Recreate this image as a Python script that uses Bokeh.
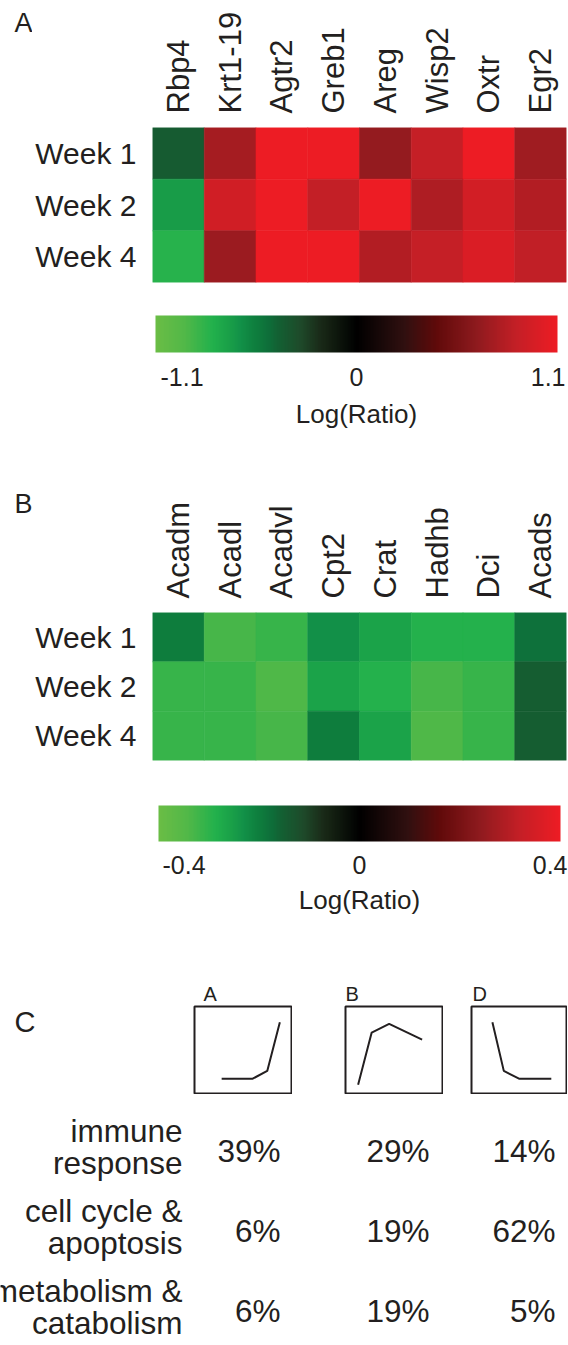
import math
import numpy as np
from bokeh.plotting import figure
from bokeh.models import ColumnDataSource, LinearColorMapper, Range1d, FactorRange, Spacer
from bokeh.layouts import column, row
from bokeh.core.properties import value
from bokeh.embed import file_html
from bokeh.resources import INLINE

FONT = "Liberation Sans"
INK = "#231f20"
PAGE_W = 568

# ---------------- data ----------------
weeks = ["Week 1", "Week 2", "Week 4"]

genes_A = ["Rbp4", "Krt1-19", "Agtr2", "Greb1", "Areg", "Wisp2", "Oxtr", "Egr2"]
logratio_A_week1 = [-0.40, 0.75, 1.10, 1.10, 0.68, 0.88, 1.10, 0.73]
logratio_A_week2 = [-0.68, 0.94, 1.10, 0.87, 1.10, 0.79, 0.95, 0.80]
logratio_A_week4 = [-0.80, 0.71, 1.10, 1.10, 0.80, 0.88, 0.99, 0.86]
scale_A = [-1.1, 1.1]
scale_A_labels = ["-1.1", "0", "1.1"]

genes_B = ["Acadm", "Acadl", "Acadvl", "Cpt2", "Crat", "Hadhb", "Dci", "Acads"]
logratio_B_week1 = [-0.20, -0.33, -0.31, -0.23, -0.26, -0.29, -0.29, -0.18]
logratio_B_week2 = [-0.31, -0.31, -0.34, -0.26, -0.29, -0.33, -0.31, -0.15]
logratio_B_week4 = [-0.31, -0.31, -0.33, -0.20, -0.26, -0.34, -0.31, -0.15]
scale_B = [-0.4, 0.4]
scale_B_labels = ["-0.4", "0", "0.4"]

clusters = ["A", "B", "D"]
profile_A_x = [0.28, 0.60, 0.75, 0.88]
profile_A_y = [0.17, 0.17, 0.26, 0.82]
profile_B_x = [0.13, 0.27, 0.45, 0.79]
profile_B_y = [0.10, 0.70, 0.80, 0.62]
profile_D_x = [0.22, 0.34, 0.50, 0.84]
profile_D_y = [0.82, 0.26, 0.17, 0.17]

categories = ["immune response", "cell cycle & apoptosis", "metabolism & catabolism"]
category_labels = ["immune\nresponse", "cell cycle &\napoptosis", "metabolism &\ncatabolism"]
share_A = [39, 6, 6]
share_B = [29, 19, 19]
share_D = [14, 62, 5]

# ---------------- colour scale ----------------
cmap_stops = [0.00, 0.07, 0.14, 0.18, 0.21, 0.25, 0.28, 0.31, 0.36, 0.41, 0.50,
              0.62, 0.70, 0.80, 0.90, 1.00]
cmap_colors = ["#6abd45", "#52b848", "#22b14c", "#1aa048", "#129148", "#0e7d3d",
               "#0e6e3a", "#145e32", "#1e4a2a", "#1a2a18", "#000000", "#301010",
               "#600a0a", "#8e1a1e", "#c41f26", "#ed1c24"]


def build_palette(stops, colors, n=256):
    rgb = np.array([[int(c[i:i + 2], 16) for i in (1, 3, 5)] for c in colors], dtype=float)
    t = np.linspace(0, 1, n)
    ch = [np.interp(t, stops, rgb[:, k]) for k in range(3)]
    return ["#%02x%02x%02x" % (int(round(ch[0][i])), int(round(ch[1][i])), int(round(ch[2][i])))
            for i in range(n)]


PALETTE = build_palette(cmap_stops, cmap_colors)


def base_fig(**kw):
    p = figure(output_backend="svg", toolbar_location=None, tools="", frame_align=False, **kw)
    p.outline_line_color = None
    p.background_fill_color = "white"
    p.border_fill_color = "white"
    return p


def blank_fig(w, h, **kw):
    kw.setdefault("x_range", Range1d(0, 1))
    kw.setdefault("y_range", Range1d(0, 1))
    p = base_fig(frame_width=w, frame_height=h, min_border=0,
                 x_axis_type=None, y_axis_type=None, **kw)
    p.grid.visible = False
    return p


BASE_SHIFT = 0.36  # rendered baseline sits this many ems below the anchor


def txt(p, x, y, text, size, align="left", dx=0, dy=0, lh=1.2):
    p.text(x=x, y=y, text=text, text_align=align, text_baseline="alphabetic",
           x_offset=dx, y_offset=dy - BASE_SHIFT * size, text_font=value(FONT),
           text_font_size=f"{size}px", text_color=INK, text_line_height=lh)


def style_axis(ax, size, standoff):
    ax.axis_line_color = None
    ax.major_tick_line_color = None
    ax.minor_tick_line_color = None
    ax.major_tick_out = 0
    ax.major_tick_in = 0
    ax.major_label_text_font = FONT
    ax.major_label_text_font_size = size
    ax.major_label_text_color = INK
    ax.major_label_standoff = standoff


LETTER_W = 32


def heatmap(genes, rows, scale, top, frame_h, bottom, letter, letter_base):
    mapper = LinearColorMapper(palette=PALETTE, low=scale[0], high=scale[1])
    g, w, v = [], [], []
    for wk, vals in zip(weeks, rows):
        for gene, val in zip(genes, vals):
            g.append(gene)
            w.append(wk)
            v.append(val)
    src = ColumnDataSource(dict(gene=g, week=w, val=v))
    p = base_fig(x_range=genes, y_range=list(reversed(weeks)), x_axis_location="above",
                 frame_width=414, frame_height=frame_h, min_border_left=150 - LETTER_W,
                 min_border_right=PAGE_W - 564, min_border_top=top, min_border_bottom=bottom)
    cmap = {"field": "val", "transform": mapper}
    p.rect(x="gene", y="week", width=1, height=1, source=src, fill_color=cmap,
           line_color=cmap, line_width=0.6)
    p.xgrid.grid_line_color = None
    p.ygrid.grid_line_color = None
    style_axis(p.xaxis[0], "31px", 14)
    p.xaxis.major_label_orientation = math.pi / 2
    style_axis(p.yaxis[0], "30px", 16)
    total_h = top + frame_h + bottom
    lf = blank_fig(LETTER_W, total_h)
    txt(lf, [0], [1], [letter], 27, dx=14, dy=letter_base)
    return row(lf, p, spacing=0), mapper


def colorbar(mapper, scale, labels, bar_l, bar_r, bar_t, bar_h, fig_top, fig_h,
             tick_base, title_base, off_l, off_r):
    lo, hi = scale
    span = hi - lo
    ux = span / (bar_r - bar_l)
    uy = 1.0 / bar_h
    x0 = lo - bar_l * ux
    x1 = hi + (PAGE_W - bar_r) * ux
    y1 = 1 + (bar_t - fig_top) * uy
    y0 = y1 - fig_h * uy
    p = blank_fig(PAGE_W, fig_h, x_range=Range1d(x0, x1), y_range=Range1d(y0, y1))
    grad = np.linspace(lo, hi, 512).reshape(1, -1)
    p.image(image=[grad], x=lo, y=0, dw=span, dh=1, color_mapper=mapper)
    for t, lab, al, o in zip([lo, (lo + hi) / 2, hi], labels,
                             ["left", "center", "right"], [off_l, 0, off_r]):
        txt(p, [t], [1], [lab], 25, align=al, dx=o, dy=tick_base - bar_t)
    txt(p, [(lo + hi) / 2], [1], ["Log(Ratio)"], 26, align="center", dy=title_base - bar_t)
    return p


# ---------------- panel A ----------------
rowA, mapA = heatmap(genes_A, [logratio_A_week1, logratio_A_week2, logratio_A_week4],
                     scale_A, 127, 155, 18, "A", 32)
cbA = colorbar(mapA, scale_A, scale_A_labels, 155, 557, 315, 37, 300, 150, 385, 423, 5, 8)

# ---------------- panel B ----------------
rowB, mapB = heatmap(genes_B, [logratio_B_week1, logratio_B_week2, logratio_B_week4],
                     scale_B, 162, 148, 30, "B", 63)
cbB = colorbar(mapB, scale_B, scale_B_labels, 158, 560, 805, 36, 790, 150, 873, 909, 4, 7)

# ---------------- panel C ----------------
C_TOP = 940
HEAD_H = 65
BOX_H = 89
TABLE_TOP = C_TOP + HEAD_H + BOX_H
TABLE_H = 1345 - TABLE_TOP
ROW_PX = 80
pad = (TABLE_H / ROW_PX - len(categories)) / 2
row1_center = TABLE_TOP + pad * ROW_PX + ROW_PX / 2


def table_range():
    return FactorRange(factors=list(reversed(categories)), range_padding=pad,
                       range_padding_units="absolute")


LEFT_W = 193
letterC = blank_fig(LEFT_W, HEAD_H + BOX_H)
txt(letterC, [0], [1], ["C"], 29, dx=14, dy=1032 - C_TOP)

labels = blank_fig(LEFT_W, TABLE_H, y_range=table_range())
txt(labels, [1] * len(categories), categories, category_labels, 31.5, align="right",
    dx=-11, dy=1158 - row1_center, lh=0.88)
left_col = column(letterC, labels, spacing=0)


def cluster_column(name, px, py, shares, w, letter_dx, pct_dx):
    head = blank_fig(w, HEAD_H)
    txt(head, [0], [0], [name], 20, dx=letter_dx, dy=(1001 - (C_TOP + HEAD_H)))
    b = base_fig(x_range=Range1d(0, 1), y_range=Range1d(0, 1), frame_width=w - 2,
                 frame_height=BOX_H - 2, min_border_left=1, min_border_right=1,
                 min_border_top=1, min_border_bottom=1, x_axis_type=None, y_axis_type=None)
    b.grid.visible = False
    b.outline_line_color = INK
    b.outline_line_width = 2
    b.line(px, py, line_color=INK, line_width=2)
    t = blank_fig(w, TABLE_H, y_range=table_range())
    txt(t, [1] * len(categories), categories, [f"{s}%" for s in shares], 31.5,
        align="right", dx=pct_dx, dy=1162 - row1_center)
    return column(head, b, t, spacing=0)


colA = cluster_column(clusters[0], profile_A_x, profile_A_y, share_A, 99, 10, -12)
colB = cluster_column(clusters[1], profile_B_x, profile_B_y, share_B, 99, 1, -14)
colD = cluster_column(clusters[2], profile_D_x, profile_D_y, share_D, 97, 2, -12)

panelC = row(left_col, colA, Spacer(width=52, height=405), colB,
             Spacer(width=27, height=405), colD, spacing=0)

layout = column(rowA, cbA, rowB, cbB, panelC, spacing=0)

open("out.html", "w").write(file_html(layout, INLINE))
